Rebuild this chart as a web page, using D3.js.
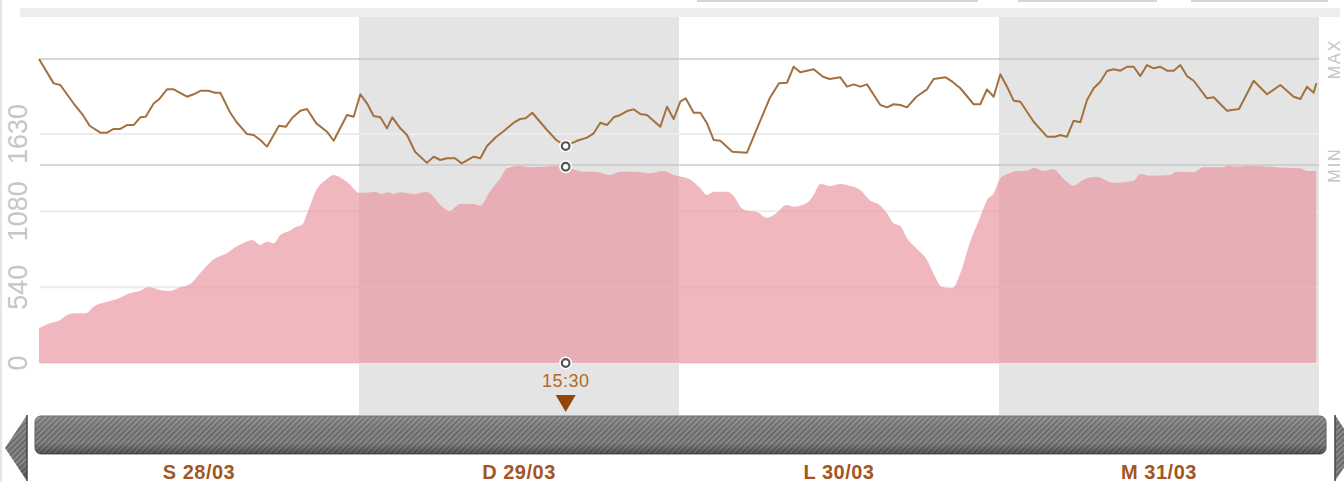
<!DOCTYPE html>
<html>
<head>
<meta charset="utf-8">
<script src="https://cdn.jsdelivr.net/npm/d3@7"></script>
<style>
  html, body { margin: 0; padding: 0; background: #fff; }
  svg { display: block; font-family: "Liberation Sans", Arial, sans-serif; }
</style>
</head>
<body>
<svg id="chart" width="1344" height="482"></svg>
<script>
// ---------------- DATA ----------------
const dayLabels = ["S 28/03", "D 29/03", "L 30/03", "M 31/03"];
const startDate = new Date(2015, 2, 28, 0, 0);
const shadedDays = [1, 3];            // index of days drawn with grey background
const areaTicks = [0, 540, 1080, 1630];
const lineRangeLabels = ["MIN", "MAX"];

// brown line (relative level, 0 = MIN, 100 = MAX), hours since 28/03 00:00
const lineHours = [0,1.1,1.6,2.6,3.3,3.8,4.6,5.1,5.6,6.1,6.6,7.1,7.6,8,8.6,9,9.6,10.1,11.1,11.6,12.1,12.7,13.2,13.6,14.3,14.8,15.6,16.1,16.6,17.1,18,18.5,19,19.6,20.1,20.8,21.6,22.1,23.1,23.6,
  24.1,24.6,25.1,25.6,26.1,26.5,27.1,27.6,28.2,29.1,29.6,30.1,30.6,31.2,31.7,32.6,33.1,33.6,34.3,34.8,35.6,36.1,36.5,37,38.1,38.8,39.5,40.3,41.1,41.6,42.1,42.6,43.1,43.6,44.1,44.6,45.1,45.6,46.6,47.1,47.6,
  48.1,48.5,49.1,49.6,50.1,50.6,51.1,52,53.1,53.8,54.8,55.5,56.1,56.6,57.1,57.6,58.1,58.8,59.3,60.1,60.6,61.1,61.6,62.1,63.1,63.6,64.1,64.6,65.1,65.8,66.6,67.1,68,68.5,69.1,70.1,70.6,71.1,71.6,
  72.1,72.6,73.1,73.6,74.6,75.6,76.2,76.6,77.1,77.6,78.1,78.6,79.1,79.6,80.1,80.6,81.1,81.6,82.1,82.6,83.1,83.6,84.1,84.6,85.1,85.6,86.1,86.6,87.6,88.1,89.1,90,91.1,92.1,93.1,94.1,94.6,95.1,95.6,95.8];
const lineValues = [100,77,75.5,58,47,37,30.5,30.5,34,34,37.7,37.7,45,45.6,58,62,71.4,71.4,64.4,66.7,70,70,68.2,68.2,50.3,40.8,29.2,28.3,23.6,17.3,37,36,44.6,51.2,52.8,39.3,31.4,22.9,47.2,45.6,
  66.7,58.2,46.2,45,34.6,45,34.6,28.3,12.5,2,7.8,4.7,6.3,6.3,1.5,7.8,6.3,17.9,26.7,31.4,39.9,43.4,44.1,49.3,33,23.6,17.9,22.6,25.8,29.9,39.9,37.7,45,47.2,50.9,52.5,48.1,47.2,36.1,55,43.4,
  59.7,62.9,49.3,49.3,39.3,23.6,22.9,12.5,11.6,33,62.9,77.1,77.6,92.7,87.5,89,90.3,83.3,81.1,82.7,73.9,76.1,73.9,76.1,56.6,54.4,57.3,56.6,54.4,64.4,71.4,81.1,82.7,78.6,72.4,57.3,57.3,71.4,64.4,
  85.6,73.9,60.7,59.7,40.8,26.7,26.7,28.3,26.7,41.8,40.3,61.3,72.4,78.6,88.7,90.3,89,92.7,92.7,83.9,94.3,91.2,92.7,89,89,94.3,83.9,79.5,62.9,63.9,51.2,52.8,79.5,66.7,75.5,64.4,62.3,73.9,68.2,77.1];

// pink area, hours since 28/03 00:00
const areaHours = [0,0.8,1.6,2.1,2.7,3.5,4.1,5.1,5.8,6.8,7.6,8.2,9.1,9.8,10.6,11.3,12.3,13.1,13.6,14.1,14.6,15.3,16,16.6,17.1,17.6,18.1,18.8,19.3,19.7,20.3,20.8,21.5,22.1,22.8,23.3,24,
  24.6,25.2,25.7,26.2,26.6,27.1,28.1,29.1,29.6,30.1,30.8,31.6,32.6,33.1,33.8,34.6,35.1,36.1,36.8,37.8,38.6,39.5,40.8,41.8,42.8,43.6,44.8,45.8,46.8,47.6,
  48.8,49.6,50.1,50.6,51.6,52.1,52.6,53.1,53.8,54.6,55.1,56.1,56.6,57.6,58.1,58.6,59.3,60.1,60.8,61.6,62.3,63.1,63.6,64.1,64.6,65.1,65.8,66.6,67.2,67.7,68.5,69.1,69.8,70.6,71.1,71.6,
  72.1,72.6,73.3,74.1,74.6,75.3,76.1,76.8,77.6,78.3,79.3,80.6,82.1,82.6,83.3,84.8,85.3,86.6,87.3,88.8,89.2,89.8,90.6,92.3,93.3,94.6,95.1,95.8];
const areaValues = [247,283,306,342,354,354,401,436,453,496,515,539,520,512,539,560,662,738,762,781,816,852,876,840,863,852,911,942,970,982,1113,1231,1303,1338,1308,1272,1212,
  1212,1219,1203,1215,1203,1215,1203,1217,1184,1125,1084,1132,1132,1120,1219,1315,1386,1402,1393,1397,1402,1397,1362,1362,1338,1362,1362,1350,1367,1338,
  1308,1244,1196,1219,1219,1189,1113,1084,1077,1034,1053,1125,1113,1141,1196,1274,1260,1274,1262,1231,1160,1120,1066,994,975,888,816,733,614,543,532,638,852,1041,1160,1208,
  1315,1343,1367,1369,1390,1367,1379,1315,1262,1303,1326,1283,1298,1345,1333,1338,1362,1357,1393,1393,1404,1397,1404,1397,1390,1386,1367,1367];

const markerHour = 39.5;
const markerLabel = "15:30";

// ---------------- CHART ----------------
const svg = d3.select("#chart");
const W = 1344, H = 482;
const hourToDate = h => new Date(startDate.getTime() + h * 3600e3);
const endDate = new Date(2015, 3, 1, 0, 0);

const x = d3.scaleTime().domain([startDate, endDate]).range([39, 1319]);
const yArea = d3.scaleLinear().domain([0, 1630]).range([363, 134]);
const yLine = d3.scaleLinear().domain([0, 100]).range([165, 59]);

const defs = svg.append("defs");
const pat = defs.append("pattern").attr("id", "stripes")
  .attr("patternUnits", "userSpaceOnUse").attr("width", 4).attr("height", 4)
  .attr("patternTransform", "rotate(45)");
pat.append("rect").attr("width", 4).attr("height", 4).attr("fill", "#8a8a8a");
pat.append("rect").attr("width", 2).attr("height", 4).attr("fill", "#6a6a6a");
const grad = defs.append("linearGradient").attr("id", "shade").attr("x1", 0).attr("y1", 0).attr("x2", 0).attr("y2", 1);
grad.append("stop").attr("offset", "0").attr("stop-color", "#fff").attr("stop-opacity", 0.12);
grad.append("stop").attr("offset", "0.7").attr("stop-color", "#000").attr("stop-opacity", 0.0);
grad.append("stop").attr("offset", "1").attr("stop-color", "#000").attr("stop-opacity", 0.35);

svg.append("rect").attr("width", W).attr("height", H).attr("fill", "#fff");
svg.append("line").attr("x1", 1).attr("x2", 1).attr("y1", 0).attr("y2", H).attr("stroke", "#e6e6e6").attr("stroke-width", 2);

// top tabs remnants
[[697, 978], [1018, 1157], [1191, 1328]].forEach(([a, b]) =>
  svg.append("rect").attr("x", a).attr("y", 0).attr("width", b - a).attr("height", 2).attr("fill", "#d6d6d6"));
// top bar
svg.append("rect").attr("x", 20).attr("y", 8).attr("width", 1320).attr("height", 9).attr("fill", "#eeeeee");

// shaded days
shadedDays.forEach(i => {
  const d0 = d3.timeDay.offset(startDate, i), d1 = d3.timeDay.offset(startDate, i + 1);
  svg.append("rect").attr("x", x(d0)).attr("y", 17).attr("width", x(d1) - x(d0)).attr("height", 398).attr("fill", "#e4e4e4");
});

// gridlines
const g = svg.append("g");
areaTicks.forEach(t => {
  g.append("line").attr("x1", 40).attr("x2", 1319).attr("y1", yArea(t)).attr("y2", yArea(t))
    .attr("stroke", "#ececec").attr("stroke-width", 2);
});
[0, 100].forEach(v => {
  g.append("line").attr("x1", 40).attr("x2", 1319).attr("y1", yLine(v)).attr("y2", yLine(v))
    .attr("stroke", "#c9c9c9").attr("stroke-width", 1.5);
});

// area
const areaData = areaHours.map((h, i) => ({ t: hourToDate(h), v: areaValues[i] }));
svg.append("path").datum(areaData)
  .attr("d", d3.area().x(d => x(d.t)).y0(yArea(0)).y1(d => yArea(d.v)).curve(d3.curveMonotoneX))
  .attr("fill", "#e8949e").attr("fill-opacity", 0.67);

// line
const lineData = lineHours.map((h, i) => ({ t: hourToDate(h), v: lineValues[i] }));
svg.append("path").datum(lineData)
  .attr("d", d3.line().x(d => x(d.t)).y(d => yLine(d.v)))
  .attr("fill", "none").attr("stroke", "#a2713f").attr("stroke-width", 2).attr("stroke-linejoin", "round");

// left tick labels
areaTicks.forEach(t => {
  svg.append("text").attr("transform", `translate(18,${yArea(t)}) rotate(-90)`)
    .attr("text-anchor", "middle").attr("dominant-baseline", "central")
    .attr("font-size", 27).attr("fill", "#c6c6c6").text(t);
});
// MIN / MAX labels
lineRangeLabels.forEach((lab, i) => {
  svg.append("text").attr("transform", `translate(1334,${yLine(i * 100)}) rotate(-90)`)
    .attr("text-anchor", "middle").attr("dominant-baseline", "central")
    .attr("font-size", 16).attr("letter-spacing", 2).attr("fill", "#c4c4c4").text(lab);
});

// marker
const mt = hourToDate(markerHour);
const mx = x(mt);
const interp = (hs, vs, h) => {
  const i = d3.bisectRight(hs, h);
  if (i <= 0) return vs[0];
  if (i >= hs.length) return vs[vs.length - 1];
  const f = (h - hs[i - 1]) / (hs[i] - hs[i - 1]);
  return vs[i - 1] + f * (vs[i] - vs[i - 1]);
};
[yLine(interp(lineHours, lineValues, markerHour)), yArea(interp(areaHours, areaValues, markerHour)), yArea(0)].forEach(cy => {
  svg.append("circle").attr("cx", mx).attr("cy", cy).attr("r", 6.5).attr("fill", "#fff");
  svg.append("circle").attr("cx", mx).attr("cy", cy).attr("r", 3.8).attr("fill", "#fff").attr("stroke", "#555").attr("stroke-width", 2.2);
});
svg.append("text").attr("x", mx).attr("y", 387).attr("text-anchor", "middle")
  .attr("font-size", 18).attr("letter-spacing", 0.5).attr("fill", "#b06a2c").text(markerLabel);
svg.append("path").attr("d", `M${mx - 10},395 L${mx + 10},395 L${mx},412 Z`).attr("fill", "#93460b");

// scrollbar
svg.append("rect").attr("x", 35).attr("y", 416).attr("width", 1291).attr("height", 38).attr("rx", 6)
  .attr("fill", "url(#stripes)").attr("stroke", "#5e5e5e").attr("stroke-width", 1);
svg.append("rect").attr("x", 35).attr("y", 416).attr("width", 1291).attr("height", 38).attr("rx", 6)
  .attr("fill", "url(#shade)");
svg.append("path").attr("d", "M27,415 L27,481 L5,448 Z").attr("fill", "url(#stripes)");
svg.append("path").attr("d", "M27,415 L27,481 L5,448 Z").attr("fill", "url(#shade)");
svg.append("line").attr("x1", 27).attr("x2", 27).attr("y1", 415).attr("y2", 481).attr("stroke", "#444").attr("stroke-width", 1.5);
svg.append("path").attr("d", "M1335,415 L1335,481 L1357,448 Z").attr("fill", "url(#stripes)");
svg.append("line").attr("x1", 1335).attr("x2", 1335).attr("y1", 415).attr("y2", 481).attr("stroke", "#444").attr("stroke-width", 1.5);

// day labels
dayLabels.forEach((lab, i) => {
  const c = d3.timeHour.offset(d3.timeDay.offset(startDate, i), 12);
  svg.append("text").attr("x", x(c)).attr("y", 479).attr("text-anchor", "middle")
    .attr("font-size", 20).attr("letter-spacing", 0.5).attr("font-weight", "bold").attr("fill", "#a3561f").text(lab);
});
</script>
</body>
</html>
